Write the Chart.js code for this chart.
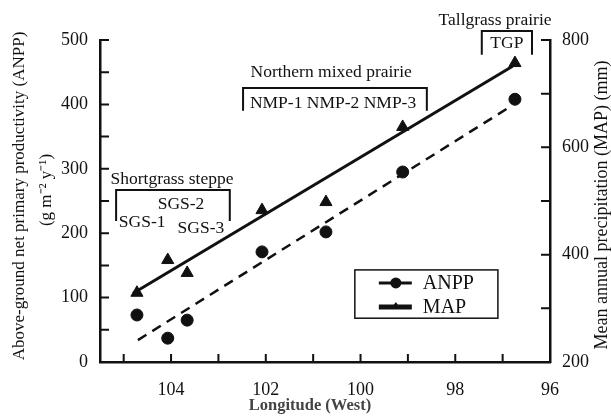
<!DOCTYPE html>
<html>
<head>
<meta charset="utf-8">
<script src="https://cdn.jsdelivr.net/npm/chart.js@4.4.1/dist/chart.umd.min.js"></script>
<style>
  html, body { margin: 0; padding: 0; background: #fff; }
</style>
</head>
<body>
<canvas id="fig" width="611" height="417"></canvas>
<script>
// site values (longitude in degrees West)
const longitude = [104.72, 104.07, 103.66, 102.08, 100.73, 99.11, 96.74];
const anpp = [73, 37, 65, 171, 202, 295, 408];
const map = [329, 390, 366, 483, 498, 638, 757];

// regression lines, end points
const anppFitLong = [104.70, 96.85];
const anppFit = [34, 396];
const mapFitLong = [104.80, 96.79];
const mapFit = [328, 751];

const xLabelTicks = [104, 102, 100, 98, 96];
const anppLabelTicks = [0, 100, 200, 300, 400, 500];
const mapLabelTicks = [200, 400, 600, 800];

const serif = '"Liberation Serif", "Times New Roman", serif';

// group labels, placed in (longitude, ANPP) units
const groups = [
  { title: "Shortgrass steppe", tx: 103.98, ty: 283, x0: 105.16, x1: 102.76, top: 267, bottom: 219 },
  { title: "Northern mixed prairie", tx: 100.62, ty: 449, x0: 102.48, x1: 98.6, top: 425.5, bottom: 390 },
  { title: "Tallgrass prairie", tx: 97.16, ty: 531, x0: 97.44, x1: 96.38, top: 514, bottom: 477 }
];
const siteLabels = [
  { text: "SGS-1", x: 104.61, y: 217 },
  { text: "SGS-2", x: 103.79, y: 244 },
  { text: "SGS-3", x: 103.37, y: 208 },
  { text: "NMP-1 NMP-2 NMP-3", x: 100.58, y: 402 },
  { text: "TGP", x: 96.91, y: 495 }
];

const pts = (xs, ys) => xs.map((x, i) => ({ x: x, y: ys[i] }));

const extras = {
  id: "extras",
  afterDraw(chart) {
    const ctx = chart.ctx;
    const xs = chart.scales.x, ys = chart.scales.y, y2 = chart.scales.y2;
    const area = chart.chartArea;
    ctx.save();
    ctx.strokeStyle = "#111";
    ctx.fillStyle = "#111";

    // inward tick marks
    ctx.lineWidth = 2;
    ctx.beginPath();
    for (let v = 96; v <= 105; v++) {
      const px = xs.getPixelForValue(v);
      ctx.moveTo(px, area.bottom);
      ctx.lineTo(px, area.bottom - 8);
    }
    for (let v = 0; v <= 500; v += 50) {
      const py = ys.getPixelForValue(v);
      ctx.moveTo(area.left, py);
      ctx.lineTo(area.left + 9, py);
    }
    for (let v = 200; v <= 800; v += 100) {
      const py = y2.getPixelForValue(v);
      ctx.moveTo(area.right, py);
      ctx.lineTo(area.right - 9, py);
    }
    ctx.stroke();

    // group brackets and labels
    ctx.font = "17.5px " + serif;
    ctx.textAlign = "center";
    ctx.textBaseline = "middle";
    ctx.lineWidth = 2;
    groups.forEach(g => {
      ctx.fillText(g.title, xs.getPixelForValue(g.tx), ys.getPixelForValue(g.ty));
      const a = xs.getPixelForValue(g.x0), b = xs.getPixelForValue(g.x1);
      const t = ys.getPixelForValue(g.top), btm = ys.getPixelForValue(g.bottom);
      ctx.beginPath();
      ctx.moveTo(a, btm);
      ctx.lineTo(a, t);
      ctx.lineTo(b, t);
      ctx.lineTo(b, btm);
      ctx.stroke();
    });
    siteLabels.forEach(s => {
      ctx.fillText(s.text, xs.getPixelForValue(s.x), ys.getPixelForValue(s.y));
    });

    // legend box
    const lx0 = xs.getPixelForValue(100.12), lx1 = xs.getPixelForValue(97.1);
    const ly0 = ys.getPixelForValue(143), ly1 = ys.getPixelForValue(68);
    ctx.lineWidth = 1.5;
    ctx.strokeRect(lx0, ly0, lx1 - lx0, ly1 - ly0);
    const rowA = ly0 + 13, rowB = ly0 + 37;
    ctx.lineWidth = 3;
    ctx.beginPath();
    ctx.moveTo(lx0 + 24, rowA); ctx.lineTo(lx0 + 57, rowA);
    ctx.stroke();
    ctx.beginPath();
    ctx.arc(lx0 + 41, rowA, 5.5, 0, Math.PI * 2);
    ctx.fill();
    ctx.lineWidth = 5;
    ctx.beginPath();
    ctx.moveTo(lx0 + 24, rowB); ctx.lineTo(lx0 + 57, rowB);
    ctx.stroke();
    ctx.beginPath();
    ctx.moveTo(lx0 + 41, rowB - 5); ctx.lineTo(lx0 + 46, rowB + 2); ctx.lineTo(lx0 + 36, rowB + 2);
    ctx.closePath();
    ctx.fill();
    ctx.font = "20px " + serif;
    ctx.textAlign = "left";
    ctx.fillText("ANPP", lx0 + 68, rowA + 1);
    ctx.fillText("MAP", lx0 + 68, rowB + 1);

    // axis titles
    ctx.textAlign = "center";
    ctx.font = "17px " + serif;
    ctx.save();
    ctx.translate(20, 196);
    ctx.rotate(-Math.PI / 2);
    ctx.fillText("Above-ground net primary productivity (ANPP)", 0, 0);
    ctx.restore();
    ctx.save();
    ctx.translate(47, 190);
    ctx.rotate(-Math.PI / 2);
    ctx.fillText("(g m\u207B\u00B2 y\u207B\u00B9)", 0, 0);
    ctx.restore();
    ctx.font = "18px " + serif;
    ctx.save();
    ctx.translate(602, 205);
    ctx.rotate(-Math.PI / 2);
    ctx.fillText("Mean annual precipitation (MAP) (mm)", 0, 0);
    ctx.restore();
    ctx.font = "bold 16.5px " + serif;
    ctx.fillStyle = "#444";
    ctx.fillText("Longitude (West)", 310, 406);
    ctx.restore();
  }
};

const ctx = document.getElementById("fig").getContext("2d");

new Chart(ctx, {
  type: "line",
  data: {
    datasets: [
      {
        label: "ANPP",
        data: pts(longitude, anpp),
        showLine: false,
        pointStyle: "circle",
        pointRadius: 6,
        pointBackgroundColor: "#111",
        pointBorderColor: "#111",
        yAxisID: "y"
      },
      {
        label: "MAP",
        data: pts(longitude, map),
        showLine: false,
        pointStyle: "triangle",
        pointRadius: 7,
        pointBackgroundColor: "#111",
        pointBorderColor: "#111",
        yAxisID: "y2"
      },
      {
        label: "ANPP fit",
        data: pts(anppFitLong, anppFit),
        borderColor: "#111",
        borderWidth: 2.5,
        borderDash: [10, 7],
        pointRadius: 0,
        yAxisID: "y"
      },
      {
        label: "MAP fit",
        data: pts(mapFitLong, mapFit),
        borderColor: "#111",
        borderWidth: 3,
        pointRadius: 0,
        yAxisID: "y2"
      }
    ]
  },
  options: {
    responsive: false,
    animation: false,
    clip: false,
    layout: {
      padding: { top: 40, left: 0, right: 0, bottom: 0 }
    },
    plugins: {
      legend: { display: false },
      tooltip: { enabled: false }
    },
    scales: {
      x: {
        type: "linear",
        reverse: true,
        min: 96,
        max: 105.5,
        afterFit: s => { s.height = 55; },
        grid: { display: false },
        border: { display: true, color: "#111", width: 2.5 },
        ticks: {
          stepSize: 1,
          autoSkip: false,
          maxRotation: 0,
          padding: 9,
          color: "#111",
          font: { family: serif, size: 18 },
          callback: v => xLabelTicks.includes(v) ? String(v) : ""
        }
      },
      y: {
        position: "left",
        min: 0,
        max: 500,
        afterFit: s => { s.width = 100; },
        grid: { display: false },
        border: { display: true, color: "#111", width: 2.5 },
        ticks: {
          stepSize: 50,
          padding: 4,
          color: "#111",
          font: { family: serif, size: 18 },
          callback: v => anppLabelTicks.includes(v) ? String(v) : ""
        }
      },
      y2: {
        position: "right",
        min: 200,
        max: 800,
        afterFit: s => { s.width = 61; },
        grid: { display: false },
        border: { display: true, color: "#111", width: 2.5 },
        ticks: {
          stepSize: 100,
          padding: 4,
          color: "#111",
          font: { family: serif, size: 18 },
          callback: v => mapLabelTicks.includes(v) ? String(v) : ""
        }
      }
    }
  },
  plugins: [extras]
});
</script>
</body>
</html>
